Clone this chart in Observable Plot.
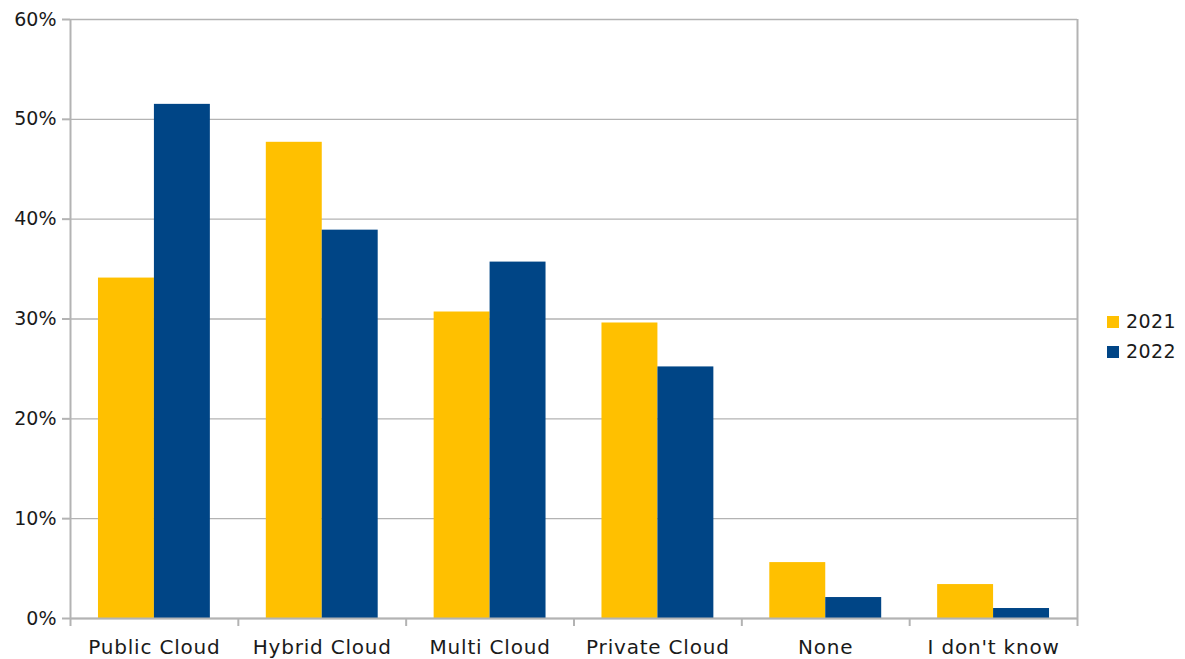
<!DOCTYPE html>
<html>
<head>
<meta charset="utf-8">
<script src="https://cdn.jsdelivr.net/npm/d3@7"></script>
<script src="https://cdn.jsdelivr.net/npm/@observablehq/plot@0.6"></script>
<style>
  body { margin: 0; background: #fff; font-family: "DejaVu Sans", sans-serif; }
  #wrap { position: relative; width: 1185px; height: 659px; }
  #legend { position: absolute; left: 1107px; top: 306px; font-size: 19px; color: #1a1a1a; line-height: 30px; letter-spacing: 0.4px; }
  #legend .sw { display: inline-block; width: 12px; height: 12px; margin-right: 7px; vertical-align: 0px; }
  .xlab text { letter-spacing: 0.8px; }
</style>
</head>
<body>
<div id="wrap"><div id="chart"></div><div id="legend"></div></div>
<script>
const categories = ["Public Cloud", "Hybrid Cloud", "Multi Cloud", "Private Cloud", "None", "I don't know"];
const years = ["2021", "2022"];
const values2021 = [34.1, 47.7, 30.7, 29.6, 5.6, 3.4];
const values2022 = [51.5, 38.9, 35.7, 25.2, 2.1, 1.0];
const colors = ["#FFC000", "#004586"];
const yTicks = [0, 10, 20, 30, 40, 50, 60];

const series = [values2021, values2022];
const rows = [];
categories.forEach((c, i) => {
  years.forEach((y, j) => rows.push({cat: c, i, j, year: y, value: series[j][i]}));
});

// band layout inside each category slot: bars occupy middle 2/3
const inner = d3.scaleBand().domain(years).range([1/6, 5/6]).padding(0);

const n = categories.length;
const gridColor = "#b3b3b3";
const textColor = "#1a1a1a";

const chart = Plot.plot({
  width: 1185,
  height: 659,
  marginLeft: 70,
  marginRight: 108,
  marginTop: 19,
  marginBottom: 41,
  style: { fontFamily: "DejaVu Sans, sans-serif", fontSize: "19px", color: textColor, background: "#fff" },
  x: { domain: [0, n], axis: null },
  y: { domain: [0, 60], axis: null },
  color: { domain: years, range: colors },
  marks: [
    Plot.gridY(yTicks, { stroke: gridColor, strokeOpacity: 1, strokeWidth: 1.3 }),
    Plot.ruleX([0, n], { stroke: gridColor, strokeWidth: 2 }),
    Plot.axisY(yTicks, { tickSize: 8, tickPadding: 6, stroke: gridColor, strokeWidth: 2, strokeOpacity: 1, tickFormat: d => d + "%", fontSize: 19, fill: textColor, label: null }),
    Plot.axisX(d3.range(n + 1), { tickSize: 8, stroke: gridColor, strokeWidth: 2, strokeOpacity: 1, tickFormat: () => "", label: null }),
    Plot.axisX(categories.map((c, i) => i + 0.5), { tickSize: 0, tickPadding: 21, tickFormat: d => categories[Math.floor(d)], fontSize: 20, fill: textColor, label: null, className: "xlab" }),
    Plot.rectY(rows, {
      x1: d => d.i + inner(d.year),
      x2: d => d.i + inner(d.year) + inner.bandwidth(),
      y1: 0,
      y2: "value",
      fill: "year"
    }),
    Plot.ruleY([0], { stroke: gridColor, strokeWidth: 2 })
  ]
});
document.getElementById("chart").appendChild(chart);

const legend = document.getElementById("legend");
years.forEach((y, j) => {
  const row = document.createElement("div");
  row.innerHTML = `<span class="sw" style="background:${colors[j]}"></span>${y}`;
  legend.appendChild(row);
});
</script>
</body>
</html>
